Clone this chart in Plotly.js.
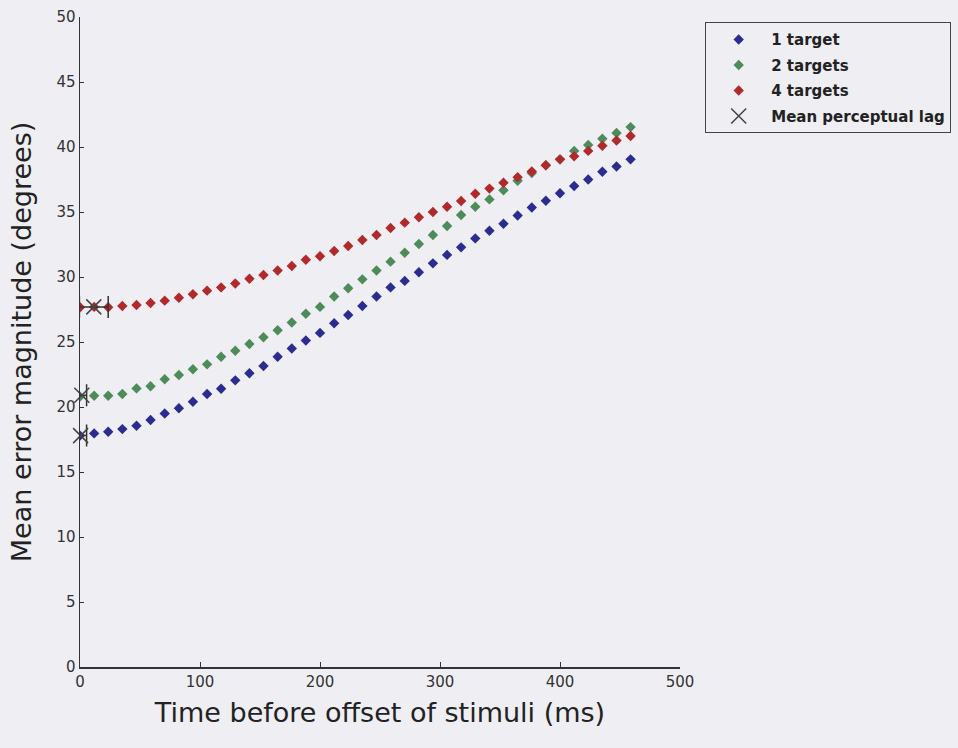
<!DOCTYPE html>
<html>
<head>
<meta charset="utf-8">
<script src="https://cdn.plot.ly/plotly-3.0.1.min.js"></script>
<style>
  html, body { margin: 0; padding: 0; background: #eeeef3; }
  #chart { width: 958px; height: 748px; }
</style>
</head>
<body>
<div id="chart"></div>
<script>
// Time before offset of stimuli (ms)
const times = [0, 11.8, 23.5, 35.3, 47.1, 58.8, 70.6, 82.4, 94.1, 105.9,
  117.6, 129.4, 141.2, 152.9, 164.7, 176.5, 188.2, 200, 211.8, 223.5,
  235.3, 247.1, 258.8, 270.6, 282.4, 294.1, 305.9, 317.6, 329.4, 341.2,
  352.9, 364.7, 376.5, 388.2, 400, 411.8, 423.5, 435.3, 447.1, 458.8];

// Mean error magnitude (degrees)
const oneTarget = [17.8, 17.97, 18.1, 18.3, 18.56, 19.0, 19.5, 19.9, 20.4, 21.0,
  21.4, 22.05, 22.6, 23.15, 23.87, 24.5, 25.12, 25.7, 26.44, 27.08,
  27.77, 28.5, 29.2, 29.7, 30.36, 31.05, 31.7, 32.28, 32.97, 33.56,
  34.1, 34.73, 35.35, 35.87, 36.44, 37.0, 37.5, 38.1, 38.5, 39.05];

const twoTargets = [20.8, 20.87, 20.87, 21.0, 21.43, 21.6, 22.13, 22.46, 22.9, 23.28,
  23.87, 24.33, 24.85, 25.36, 25.9, 26.5, 27.17, 27.7, 28.5, 29.13,
  29.82, 30.5, 31.18, 31.87, 32.54, 33.23, 33.92, 34.77, 35.4, 35.97,
  36.67, 37.4, 38.0, 38.6, 39.05, 39.7, 40.15, 40.63, 41.08, 41.53];

const fourTargets = [27.67, 27.7, 27.67, 27.77, 27.85, 28.0, 28.18, 28.4, 28.67, 28.95,
  29.2, 29.5, 29.87, 30.15, 30.5, 30.85, 31.33, 31.6, 32.0, 32.38,
  32.85, 33.23, 33.77, 34.18, 34.6, 35.0, 35.4, 35.85, 36.4, 36.8,
  37.25, 37.68, 38.12, 38.6, 39.05, 39.28, 39.7, 40.1, 40.5, 40.85];

// Mean perceptual lag (1, 2, 4 targets)
const lagX = [0.5, 1.5, 11.5];
const lagY = [17.8, 20.9, 27.7];
const lagErr = [5, 4, 12];

const seriesNames = ['1 target', '2 targets', '4 targets', 'Mean perceptual lag'];
const xTicks = [0, 100, 200, 300, 400, 500];
const yTicks = [0, 5, 10, 15, 20, 25, 30, 35, 40, 45, 50];

const FONT = 'DejaVu Sans, Liberation Sans, Arial, sans-serif';

function dots(y, name, color, grp) {
  return {
    x: times, y: y, name: name, type: 'scatter', mode: 'markers',
    legendgroup: grp,
    marker: { symbol: 'diamond', size: 8, color: color, line: { width: 0 } }
  };
}

const data = [
  dots(oneTarget, seriesNames[0], '#2c2c90', 'a'),
  dots(twoTargets, seriesNames[1], '#4e8b5b', 'b'),
  dots(fourTargets, seriesNames[2], '#b0292b', 'c'),
  {
    x: lagX, y: lagY, name: seriesNames[3], type: 'scatter', mode: 'markers',
    legendgroup: 'd', cliponaxis: false,
    marker: { symbol: 'x-thin-open', size: 15, color: '#444', line: { width: 1.5, color: '#444' } },
    error_x: { type: 'data', array: lagErr, visible: true, color: '#333', thickness: 1.5, width: 11 }
  }
];

const layout = {
  width: 958, height: 748,
  paper_bgcolor: '#eeeef3', plot_bgcolor: '#eeeef3',
  margin: { l: 80, r: 278, t: 17, b: 81, autoexpand: false },
  font: { family: FONT, color: '#333' },
  showlegend: true,
  legend: {
    x: 1.042, y: 0.992, xanchor: 'left', yanchor: 'top',
    bgcolor: '#eeeef3', bordercolor: '#444', borderwidth: 1,
    font: { family: FONT, size: 15, color: '#222', weight: 'bold' },
    itemwidth: 55, traceorder: 'grouped', tracegroupgap: 3
  },
  xaxis: {
    range: [0, 500], tickvals: xTicks, ticktext: xTicks.map(String),
    showgrid: false, zeroline: false, showline: true, linecolor: '#333', linewidth: 1.5,
    ticks: 'inside', ticklen: 5, tickcolor: '#333', tickwidth: 1,
    tickfont: { family: FONT, size: 15, color: '#333' },
    title: { text: 'Time before offset of stimuli (ms)', font: { family: FONT, size: 27, color: '#222' }, standoff: 13 }
  },
  yaxis: {
    range: [0, 50], tickvals: yTicks, ticktext: yTicks.map(String),
    showgrid: false, zeroline: false, showline: true, linecolor: '#333', linewidth: 1.5,
    ticks: 'inside', ticklen: 4, tickcolor: '#333', tickwidth: 1,
    tickfont: { family: FONT, size: 15, color: '#333' },
    title: { text: 'Mean error magnitude (degrees)', font: { family: FONT, size: 27, color: '#222' }, standoff: 17 }
  }
};

Plotly.newPlot('chart', data, layout, { displayModeBar: false, staticPlot: true });
</script>
</body>
</html>
